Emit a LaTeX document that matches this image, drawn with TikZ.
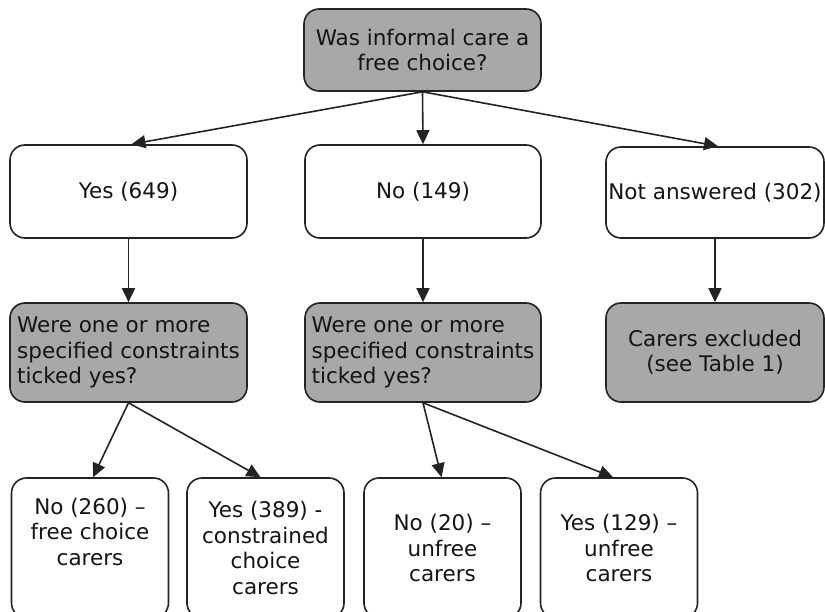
\documentclass[tikz,border=0pt]{standalone}
\usepackage{fontspec}
\setmainfont{DejaVu Sans}
\usepackage{tikz}
\usepackage{xcolor}
\usetikzlibrary{arrows.meta}
\usetikzlibrary{shapes}

\definecolor{askgray}{RGB}{168,168,168}
\definecolor{inkline}{RGB}{35,35,35}
\definecolor{inktext}{RGB}{20,20,20}

\begin{document}
\begin{tikzpicture}[x=1pt, y=-1pt,
  box/.style={draw=inkline, line width=1.6pt, rounded corners=15pt,
    fill=white, text=inktext, inner sep=0pt,
    font=\fontsize{21.5}{25.5}\selectfont, align=center},
  askbox/.style={box, fill=askgray},
  flow/.style={draw=inkline, line width=1.6pt,
    -{Triangle[length=14pt,width=13pt]}}]
\useasboundingbox (0,0) rectangle (825,612);
\clip (0,0) rectangle (825,612);

\node [askbox, minimum width=237pt, minimum height=82pt]
       (free) at (422.5,50) {Was informal care a\\free choice?};

\node [box, minimum width=237pt, minimum height=93pt]
       (yes) at (128.5,191.5) {Yes (649)};
\node [box, minimum width=236pt, minimum height=93pt]
       (no) at (423,191.5) {No (149)};
\node [box, minimum width=218pt, minimum height=91pt]
       (notans) at (715,192.5) {Not answered (302)};

\node [askbox, align=left, minimum width=237pt, minimum height=99pt]
       (askyes) at (128.5,352.5) {Were one or more\\specified constraints\\ticked yes?};
\node [askbox, align=left, minimum width=236pt, minimum height=99pt]
       (askno) at (423,352.5) {Were one or more\\specified constraints\\ticked yes?};
\node [askbox, minimum width=218pt, minimum height=99pt]
       (excluded) at (715,352.5) {Carers excluded\\(see Table 1)};

\node [box, minimum width=157pt, minimum height=140pt]
       (freecarers) at (90,548) {No (260) –\\free choice\\carers\\ \strut};
\node [box, minimum width=157pt, minimum height=140pt]
       (constrained) at (265.5,548) {Yes (389) -\\constrained\\choice\\carers};
\node [box, minimum width=157pt, minimum height=140pt]
       (unfreeno) at (442.5,548) {No (20) –\\unfree\\carers};
\node [box, minimum width=157pt, minimum height=140pt]
       (unfreeyes) at (619,548) {Yes (129) –\\unfree\\carers};

\draw [flow] (free.south) -- ([xshift=3pt]yes.north);
\draw [flow] (free.south) -- (no.north);
\draw [flow] (free.south) -- ([xshift=3pt]notans.north);

\draw [flow] (yes) -- (askyes);
\draw [flow] (no) -- (askno);
\draw [flow] (notans) -- (excluded);

\draw [flow] (askyes.south) -- ([xshift=3pt]freecarers.north);
\draw [flow] (askyes.south) -- ([xshift=-5pt]constrained.north);
\draw [flow] (askno.south) -- ([xshift=-1pt]unfreeno.north);
\draw [flow] (askno.south) -- ([xshift=-6pt]unfreeyes.north);
\end{tikzpicture}
\end{document}
